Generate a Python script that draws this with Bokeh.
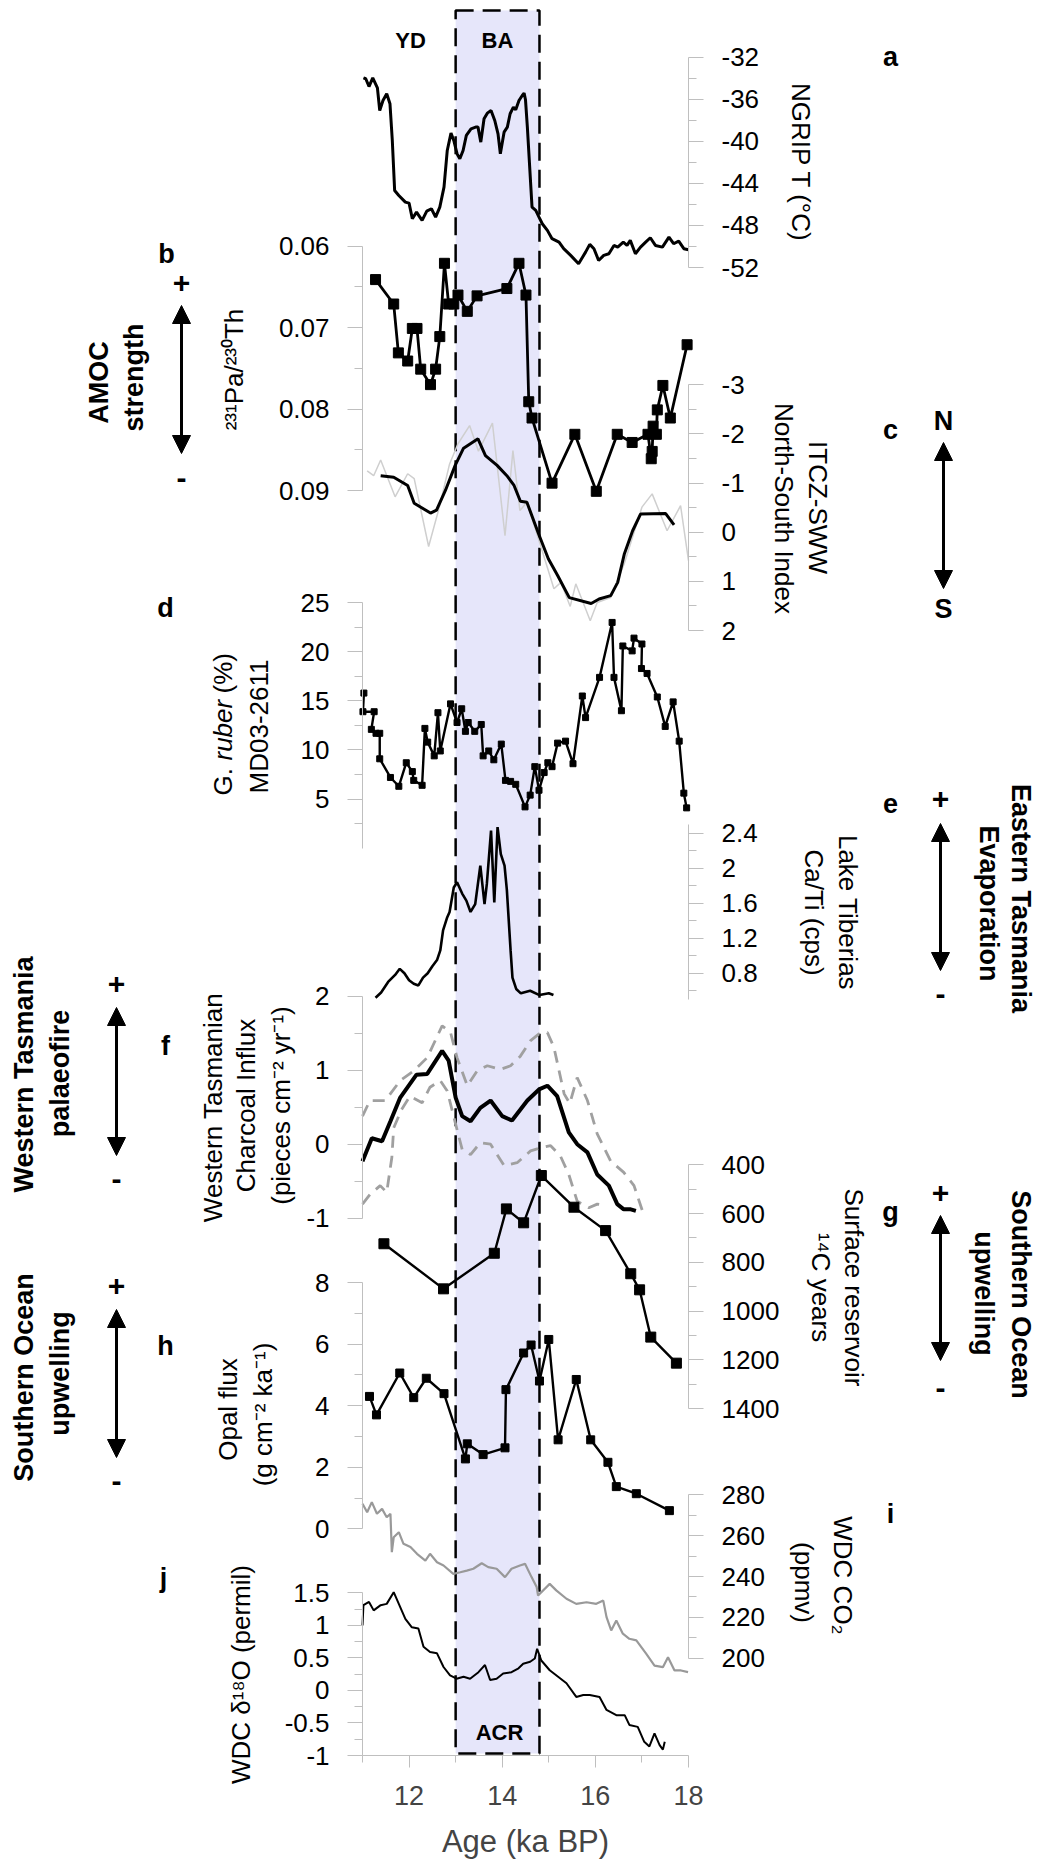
import math
from bokeh.plotting import figure
from bokeh.models import (Range1d, LinearAxis, FixedTicker, Label, Arrow, NormalHead,
                          CustomJSTickFormatter)
from bokeh.embed import file_html
from bokeh.resources import INLINE

# ------------------------------------------------------------------ data
band = [13.0, 14.8]          # BA / ACR interval (ka BP)
x_major = [12, 14, 16, 18]
x_minor = [11, 13, 15, 17]

# a  NGRIP temperature (degC)
ngrip_age = [11.02, 11.07, 11.14, 11.22, 11.32, 11.37, 11.44, 11.52, 11.59, 11.64, 11.69, 11.78, 11.92, 12.0,
             12.07, 12.16, 12.28, 12.38, 12.48, 12.57, 12.66, 12.75, 12.82, 12.9, 12.96, 13.03, 13.09, 13.16,
             13.23, 13.33, 13.43, 13.48, 13.54, 13.61, 13.68, 13.76, 13.84, 13.91, 13.96, 14.04, 14.11, 14.17,
             14.24, 14.29, 14.36, 14.43, 14.47, 14.5, 14.54, 14.59, 14.64, 14.72, 14.79, 14.86, 14.97, 15.07,
             15.22, 15.32, 15.47, 15.64, 15.79, 15.88, 15.97, 16.07, 16.18, 16.29, 16.4, 16.48, 16.6, 16.68,
             16.75, 16.86, 16.97, 17.08, 17.18, 17.29, 17.44, 17.58, 17.68, 17.79, 17.9, 18.0]
ngrip_t = [-33.96, -34.05, -34.79, -33.96, -34.91, -37.07, -36.12, -35.48, -36.43, -39.92, -44.67, -45.15, -45.78,
           -45.88, -47.36, -46.73, -47.52, -46.64, -46.41, -47.21, -46.26, -44.36, -40.87, -39.22, -39.92, -41.18,
           -41.66, -40.87, -39.44, -38.81, -38.65, -38.65, -40.08, -37.86, -37.32, -37.07, -38.02, -39.29, -41.18,
           -39.13, -38.65, -37.38, -36.75, -37.0, -36.12, -35.64, -35.42, -36.05, -38.65, -42.46, -46.26, -46.57,
           -47.21, -47.84, -48.47, -49.26, -49.59, -50.21, -50.85, -51.64, -50.54, -49.8, -50.21, -51.33, -50.85,
           -50.69, -49.9, -50.06, -49.59, -49.9, -49.42, -50.69, -50.06, -49.59, -49.17, -49.9, -50.06, -49.11,
           -49.74, -49.49, -50.21, -50.31]

# b  231Pa/230Th
pa_age = [11.28, 11.67, 11.77, 11.97, 12.07, 12.17, 12.25, 12.46, 12.57, 12.66, 12.76, 12.85, 12.96, 13.05,
          13.25, 13.46, 14.10, 14.36, 14.51, 14.57, 14.64, 15.07, 15.56, 16.02, 16.47, 16.79, 17.13, 17.20,
          17.22, 17.24, 17.31, 17.33, 17.45, 17.61, 17.97]
pa_th = [0.0641, 0.0671, 0.0731, 0.0741, 0.0701, 0.0701, 0.0751, 0.0770, 0.0751, 0.0711, 0.0621, 0.0671, 0.0671,
         0.0660, 0.0680, 0.0661, 0.0652, 0.0621, 0.0660, 0.0791, 0.0811, 0.0891, 0.0831, 0.0901, 0.0831, 0.0841,
         0.0831, 0.0861, 0.0852, 0.0821, 0.0831, 0.0801, 0.0771, 0.0811, 0.0721]

# c  ITCZ-SWW north-south index (smoothed, raw)
itcz_age = [11.39, 11.67, 11.97, 12.11, 12.46, 12.59, 12.78, 12.99, 13.17, 13.48, 13.64, 13.89, 14.10, 14.25,
            14.39, 14.53, 14.78, 14.99, 15.19, 15.44, 15.91, 16.08, 16.33, 16.48, 16.62, 16.80, 16.97, 17.51, 17.69]
itcz_idx = [-1.15, -1.12, -0.95, -0.59, -0.39, -0.45, -0.85, -1.36, -1.71, -1.90, -1.56, -1.36, -1.15, -0.96,
            -0.63, -0.61, 0.03, 0.54, 0.88, 1.33, 1.45, 1.36, 1.29, 1.02, 0.45, -0.03, -0.37, -0.38, -0.15]
itcz_raw_age = [11.10, 11.24, 11.39, 11.70, 11.97, 12.11, 12.42, 12.65, 12.87, 13.05, 13.30, 13.49, 13.79, 14.06,
                14.23, 14.38, 14.53, 14.80, 15.11, 15.26, 15.46, 15.58, 15.89, 16.04, 16.33, 16.62, 17.00, 17.22,
                17.54, 17.83, 18.00]
itcz_raw_idx = [-1.25, -1.15, -1.47, -0.72, -1.19, -1.09, 0.29, -0.51, -1.39, -1.80, -2.17, -1.65, -2.22, 0.07,
                -1.66, -0.44, -0.61, 0.20, 1.15, 1.02, 1.51, 1.05, 1.80, 1.43, 1.33, 0.64, -0.51, -0.78, -0.03,
                -0.54, 0.58]

# d  G. ruber (%) MD03-2611
ruber_age = [11.03, 11.01, 11.25, 11.19, 11.29, 11.37, 11.37, 11.60, 11.78, 11.94, 12.07, 12.10, 12.28, 12.34,
             12.40, 12.54, 12.62, 12.67, 12.89, 13.03, 13.13, 13.21, 13.27, 13.41, 13.55, 13.59, 13.71, 13.82,
             13.98, 14.07, 14.18, 14.29, 14.49, 14.60, 14.70, 14.79, 14.90, 14.98, 15.07, 15.19, 15.36, 15.52,
             15.72, 15.79, 16.09, 16.36, 16.40, 16.56, 16.59, 16.79, 16.83, 17.00, 16.99, 17.11, 17.33, 17.50,
             17.67, 17.80, 17.90, 17.96]
ruber_pct = [15.8, 13.9, 13.9, 12.1, 11.7, 11.7, 9.1, 7.2, 6.3, 8.7, 7.8, 6.9, 6.4, 12.2, 10.8, 9.4, 13.8, 9.9,
             14.7, 12.8, 14.2, 11.9, 12.8, 11.9, 12.6, 9.4, 9.9, 9.0, 10.6, 6.9, 6.8, 6.5, 4.2, 5.4, 8.3, 5.9, 7.7,
             8.7, 8.3, 10.7, 10.9, 8.6, 15.5, 13.3, 17.4, 23.0, 17.4, 14.0, 20.6, 20.1, 21.4, 20.8, 18.3, 17.8,
             15.4, 12.4, 14.9, 10.9, 5.6, 4.1]

# e  Lake Tiberias Ca/Ti (cps)
tib_age = [11.28, 11.40, 11.55, 11.70, 11.80, 11.90, 12.00, 12.10, 12.20, 12.30, 12.40, 12.50, 12.60, 12.67,
           12.73, 12.82, 12.87, 12.96, 13.03, 13.14, 13.23, 13.32, 13.42, 13.53, 13.62, 13.67, 13.76, 13.83,
           13.90, 13.97, 14.05, 14.10, 14.18, 14.22, 14.30, 14.40, 14.60, 14.80, 15.00, 15.10]
tib_cati = [0.52, 0.58, 0.70, 0.78, 0.85, 0.80, 0.72, 0.68, 0.66, 0.75, 0.80, 0.88, 0.95, 1.06, 1.29, 1.44, 1.50,
            1.78, 1.84, 1.71, 1.63, 1.50, 1.59, 2.03, 1.59, 1.82, 2.43, 1.61, 2.47, 2.16, 2.03, 1.75, 1.06, 0.75,
            0.62, 0.57, 0.60, 0.55, 0.57, 0.55]

# f  Western Tasmanian charcoal influx (mean, upper, lower)
char_age = [11.0, 11.2, 11.42, 11.6, 11.81, 12.16, 12.39, 12.71, 12.85, 13.0, 13.14, 13.32, 13.53, 13.75, 14.0,
            14.21, 14.54, 14.79, 14.97, 15.18, 15.43, 15.61, 15.83, 16.04, 16.29, 16.47, 16.61, 16.76, 16.87]
char_mean = [-0.23, 0.08, 0.04, 0.31, 0.63, 0.94, 0.95, 1.26, 1.13, 0.63, 0.38, 0.31, 0.49, 0.59, 0.38, 0.32,
             0.59, 0.74, 0.79, 0.65, 0.16, 0.0, -0.11, -0.41, -0.56, -0.81, -0.88, -0.88, -0.90]
char_hi_age = [11.0, 11.16, 11.49, 11.81, 12.1, 12.39, 12.71, 12.89, 13.03, 13.25, 13.46, 13.68, 13.96, 14.18,
               14.39, 14.61, 14.79, 14.97, 15.11, 15.33, 15.45, 15.61, 15.83, 16.04, 16.33, 16.61, 16.83, 17.01]
char_hi = [0.38, 0.59, 0.59, 0.86, 0.99, 1.17, 1.60, 1.51, 1.17, 0.79, 0.99, 1.06, 1.01, 1.06, 1.19, 1.40, 1.49,
           1.51, 1.31, 0.68, 0.55, 0.90, 0.59, 0.14, -0.23, -0.38, -0.56, -0.90]
char_lo_age = [11.0, 11.16, 11.38, 11.52, 11.63, 11.67, 11.84, 12.02, 12.28, 12.45, 12.67, 12.82, 13.0, 13.14,
               13.32, 13.53, 13.75, 14.04, 14.32, 14.61, 14.82, 15.04, 15.25, 15.43, 15.61, 15.86, 16.04, 16.22]
char_lo = [-0.81, -0.68, -0.56, -0.65, -0.18, 0.22, 0.47, 0.65, 0.56, 0.77, 0.86, 0.72, 0.27, -0.07, -0.14, 0.02,
           0.0, -0.29, -0.25, -0.09, -0.05, -0.02, -0.16, -0.41, -0.77, -0.86, -0.81, -0.83]

# g  Surface reservoir age (14C years)
res_age = [11.46, 12.74, 13.83, 14.09, 14.46, 14.84, 15.54, 16.22, 16.76, 16.95, 17.19, 17.74]
res_yr = [724, 909, 763, 581, 638, 444, 574, 670, 847, 913, 1107, 1214]

# h  Opal flux (g cm-2 ka-1)
opal_age = [11.15, 11.30, 11.80, 12.10, 12.37, 12.75, 13.21, 13.25, 13.59, 14.06, 14.08, 14.46, 14.62, 14.80,
            15.00, 15.20, 15.59, 15.90, 16.27, 16.45, 16.88, 17.59]
opal_flux = [4.30, 3.70, 5.06, 4.26, 4.89, 4.39, 2.27, 2.76, 2.41, 2.63, 4.52, 5.71, 5.97, 4.80, 6.15, 2.89, 4.85,
             2.89, 2.16, 1.37, 1.14, 0.59]

# i  WDC CO2 (ppmv)
co2_age = [11.0, 11.1, 11.2, 11.31, 11.42, 11.52, 11.6, 11.63, 11.67, 11.78, 11.88, 12.03, 12.17, 12.35, 12.45,
           12.6, 12.74, 12.95, 13.1, 13.24, 13.38, 13.56, 13.7, 13.88, 14.06, 14.2, 14.38, 14.49, 14.63, 14.74,
           14.77, 15.02, 15.16, 15.38, 15.59, 15.81, 16.02, 16.17, 16.24, 16.34, 16.45, 16.59, 16.73, 16.88,
           17.09, 17.27, 17.45, 17.56, 17.7, 17.84, 17.99]
co2_ppmv = [275.6, 271.5, 276.4, 270.7, 273.1, 269.0, 270.7, 251.9, 259.2, 261.7, 256.0, 254.4, 251.1, 247.8,
            251.1, 247.0, 245.4, 241.3, 242.1, 242.9, 243.8, 246.5, 244.6, 243.8, 239.7, 243.8, 245.4, 246.2,
            239.7, 234.8, 230.7, 236.4, 233.2, 229.1, 226.6, 227.4, 226.6, 228.2, 220.1, 213.6, 218.5, 212.0,
            209.5, 208.7, 202.2, 196.4, 195.6, 200.5, 194.0, 194.0, 193.2]

# j  WDC d18O (permil)
d18o_age = [11.0, 11.02, 11.14, 11.24, 11.39, 11.52, 11.67, 11.81, 11.92, 12.06, 12.2, 12.31, 12.45, 12.6, 12.74,
            12.88, 13.02, 13.17, 13.31, 13.49, 13.63, 13.74, 13.88, 14.02, 14.2, 14.35, 14.45, 14.6, 14.7, 14.75,
            14.84, 15.02, 15.2, 15.38, 15.59, 15.74, 15.88, 16.09, 16.24, 16.45, 16.63, 16.73, 16.91, 17.05,
            17.16, 17.27, 17.38, 17.45, 17.49]
d18o = [1.0, 1.31, 1.36, 1.23, 1.31, 1.33, 1.51, 1.28, 1.10, 0.97, 0.95, 0.67, 0.59, 0.57, 0.36, 0.23, 0.18, 0.21,
        0.18, 0.28, 0.39, 0.16, 0.18, 0.26, 0.28, 0.34, 0.41, 0.44, 0.49, 0.64, 0.46, 0.31, 0.21, 0.11, -0.10,
        -0.07, -0.07, -0.10, -0.30, -0.38, -0.38, -0.53, -0.56, -0.79, -0.86, -0.66, -0.84, -0.91, -0.79]

# axis ticks per panel
ticks_a = [-52, -48, -44, -40, -36, -32];  minor_a = [-50, -46, -42, -38, -34]
ticks_b = [0.06, 0.07, 0.08, 0.09];        minor_b = [0.065, 0.075, 0.085]
ticks_c = [-3, -2, -1, 0, 1, 2];           minor_c = [-2.5, -1.5, -0.5, 0.5, 1.5]
ticks_d = [5, 10, 15, 20, 25];             minor_d = [2.5, 7.5, 12.5, 17.5, 22.5]
ticks_e = [0.8, 1.2, 1.6, 2.0, 2.4];       minor_e = [0.6, 1.0, 1.4, 1.8, 2.2]
ticks_f = [-1, 0, 1, 2];                   minor_f = [-0.5, 0.5, 1.5]
ticks_g = [400, 600, 800, 1000, 1200, 1400]; minor_g = [500, 700, 900, 1100, 1300]
ticks_h = [0, 2, 4, 6, 8];                 minor_h = [1, 3, 5, 7]
ticks_i = [200, 220, 240, 260, 280];       minor_i = [210, 230, 250, 270]
ticks_j = [-1, -0.5, 0, 0.5, 1, 1.5];      minor_j = [-0.75, -0.25, 0.25, 0.75, 1.25]

# ------------------------------------------------------------------ layout
W, H = 1038, 1872
FL, FR, FT, FB = 362, 688, 10, 1755      # plot box (ages 11..18) in page pixels
PXK = (FR - FL) / 7.0                    # pixels per ka
GRAY = "#bfbfbf"
FONT = "Liberation Sans"
FS = "26px"

# the frame covers the whole canvas; the age scale is placed so that 11..18 spans FL..FR
p = figure(width=W, height=H, output_backend="svg", toolbar_location=None,
           x_range=Range1d(11 + (0 - FL) / PXK, 11 + (W - FL) / PXK),
           y_range=Range1d(H, 0), y_axis_location=None, min_border=0)
p.extra_x_ranges = {"px": Range1d(0, W)}
p.outline_line_color = None
p.grid.grid_line_color = None
p.background_fill_color = "white"
p.border_fill_color = "white"

fmt = CustomJSTickFormatter(code="return (Math.round(tick*1000)/1000).toString();")

# panel placement: value v0 at page y p0, value v1 at page y p1
panels = {
    "a": ("right", -32, 56.7, -52, 267.0, ticks_a, minor_a),
    "b": ("left", 0.06, 245.7, 0.09, 490.0, ticks_b, minor_b),
    "c": ("right", -3, 384.3, 2, 630.0, ticks_c, minor_c),
    "d": ("left", 25, 602.3, 0, 847.6, ticks_d, minor_d),
    "e": ("right", 2.4, 832.7, 0.8, 972.7, ticks_e, minor_e),
    "f": ("left", 2, 995.7, -1, 1217.7, ticks_f, minor_f),
    "g": ("right", 400, 1164.3, 1400, 1408.0, ticks_g, minor_g),
    "h": ("left", 8, 1282.0, 0, 1528.3, ticks_h, minor_h),
    "i": ("right", 280, 1494.3, 200, 1657.7, ticks_i, minor_i),
    "j": ("left", 1.5, 1592.3, -1, 1755.0, ticks_j, minor_j),
}
bounds = {"a": (-52, -32), "b": (0.06, 0.09), "c": (-3, 2), "d": (0, 25), "e": (0.5, 2.5),
          "f": (-1, 2), "g": (400, 1400), "h": (0, 8), "i": (200, 280), "j": (-1, 1.5)}

for name, (side, v0, p0, v1, p1, maj, mnr) in panels.items():
    k = (v1 - v0) / (p1 - p0)
    p.extra_y_ranges[name] = Range1d(start=v0 + (H - p0) * k, end=v0 + (0 - p0) * k)
    ax = LinearAxis(y_range_name=name, fixed_location=11 if side == "left" else 18,
                    bounds=bounds[name], ticker=FixedTicker(ticks=maj, minor_ticks=mnr), formatter=fmt,
                    axis_line_color=GRAY, major_tick_line_color=GRAY, minor_tick_line_color=GRAY,
                    major_tick_out=15, major_tick_in=0, minor_tick_out=8, minor_tick_in=0,
                    major_label_text_font=FONT, major_label_text_font_size=FS,
                    major_label_text_color="black", major_label_standoff=18)
    p.add_layout(ax, side)

xa = p.xaxis[0]
xa.fixed_location = FB
xa.bounds = (11, 18)
xa.ticker = FixedTicker(ticks=x_major, minor_ticks=x_minor)
xa.axis_line_color = GRAY
xa.major_tick_line_color = GRAY
xa.minor_tick_line_color = GRAY
xa.major_tick_out = 12
xa.major_tick_in = 0
xa.minor_tick_out = 7
xa.minor_tick_in = 0
xa.major_label_text_font = FONT
xa.major_label_text_font_size = "27px"
xa.major_label_standoff = 18
xa.axis_label = "Age (ka BP)"
xa.axis_label_text_font = FONT
xa.axis_label_text_font_size = "31px"
xa.axis_label_text_font_style = "normal"
xa.axis_label_standoff = 16

# ------------------------------------------------------------------ band
p.quad(left=[band[0]], right=[band[1]], top=[FT], bottom=[FB - 2], fill_color="#e6e6fa",
       line_color="black", line_dash="18 9", line_width=2.5)

# ------------------------------------------------------------------ series
p.line(ngrip_age, ngrip_t, y_range_name="a", line_color="black", line_width=3)

p.line(pa_age, pa_th, y_range_name="b", line_color="black", line_width=2.8)
p.scatter(pa_age, pa_th, y_range_name="b", marker="square", size=10, color="black")

p.line(itcz_raw_age, itcz_raw_idx, y_range_name="c", line_color="#cfcfcf", line_width=1.5)
p.line(itcz_age, itcz_idx, y_range_name="c", line_color="black", line_width=3)

p.line(ruber_age, ruber_pct, y_range_name="d", line_color="black", line_width=2.4)
p.scatter(ruber_age, ruber_pct, y_range_name="d", marker="square", size=6, color="black")

p.line(tib_age, tib_cati, y_range_name="e", line_color="black", line_width=2.6)

p.line(char_hi_age, char_hi, y_range_name="f", line_color="#a0a0a0", line_width=2.8, line_dash="12 8")
p.line(char_lo_age, char_lo, y_range_name="f", line_color="#a0a0a0", line_width=2.8, line_dash="12 8")
p.line(char_age, char_mean, y_range_name="f", line_color="black", line_width=4)

p.line(res_age, res_yr, y_range_name="g", line_color="black", line_width=2.4)
p.scatter(res_age, res_yr, y_range_name="g", marker="square", size=10, color="black")

p.line(opal_age, opal_flux, y_range_name="h", line_color="black", line_width=2.4)
p.scatter(opal_age, opal_flux, y_range_name="h", marker="square", size=8, color="black")

p.line(co2_age, co2_ppmv, y_range_name="i", line_color="#999999", line_width=2.2)
p.line(d18o_age, d18o, y_range_name="j", line_color="black", line_width=2)

# ------------------------------------------------------------------ text
UP, DOWN = math.pi / 2, -math.pi / 2


def txt(x, y, s, size=FS, style="normal", angle=0.0, align="center", baseline="middle"):
    p.add_layout(Label(x=x, y=y, x_range_name="px", text=s, angle=angle, text_font=FONT,
                       text_font_size=size, text_font_style=style, text_align=align,
                       text_baseline=baseline, text_color="black"))


def arrow(x, y0, y1):
    p.add_layout(Arrow(x_start=x, y_start=y0, x_end=x, y_end=y1, x_range_name="px",
                       line_width=3, line_color="black",
                       start=NormalHead(size=18, fill_color="black", line_color="black", line_width=1),
                       end=NormalHead(size=18, fill_color="black", line_color="black", line_width=1)))


# top labels
txt(410, 40, "YD", size="22px", style="bold")
txt(497, 40, "BA", size="22px", style="bold")
txt(499, 1732, "ACR", size="22px", style="bold")

# right side
txt(890, 56, "a", size="27px", style="bold")
txt(800, 162, "NGRIP T (°C)", angle=DOWN)

txt(890, 429, "c", size="27px", style="bold")
txt(817, 507, "ITCZ-SWW", angle=DOWN)
txt(783, 508, "North-South Index", angle=DOWN)
txt(943, 420, "N", size="27px", style="bold")
arrow(943, 442, 588)
txt(943, 608, "S", size="27px", style="bold")

txt(890, 803, "e", size="27px", style="bold")
txt(940, 798, "+", size="30px", style="bold")
arrow(940, 823, 970)
txt(940, 993, "-", size="30px", style="bold")
txt(1020, 898, "Eastern Tasmania", size="27px", style="bold", angle=DOWN)
txt(988, 903, "Evaporation", size="27px", style="bold", angle=DOWN)
txt(847, 912, "Lake Tiberias", angle=DOWN)
txt(813, 912, "Ca/Ti (cps)", angle=DOWN)

txt(890, 1211, "g", size="27px", style="bold")
txt(940, 1192, "+", size="30px", style="bold")
arrow(940, 1215, 1360)
txt(940, 1387, "-", size="30px", style="bold")
txt(1020, 1294, "Southern Ocean", size="27px", style="bold", angle=DOWN)
txt(983, 1293, "upwelling", size="27px", style="bold", angle=DOWN)
txt(853, 1287, "Surface reservoir", angle=DOWN)
txt(820, 1287, "\u00b9\u2074C years", angle=DOWN)

txt(890, 1513, "i", size="27px", style="bold")
txt(842, 1575, "WDC CO\u2082", angle=DOWN)
txt(803, 1582, "(ppmv)", angle=DOWN)

# left side
txt(166, 253, "b", size="27px", style="bold")
txt(181, 282, "+", size="30px", style="bold")
arrow(181, 305, 453)
txt(181, 477, "-", size="30px", style="bold")
txt(98, 382, "AMOC", size="27px", style="bold", angle=UP)
txt(133, 377, "strength", size="27px", style="bold", angle=UP)
txt(233, 369, "\u00b2\u00b3\u00b9Pa/\u00b2\u00b3\u2070Th", angle=UP)

txt(165, 607, "d", size="27px", style="bold")
txt(222, 795, "G.", angle=UP, align="left")
txt(222, 760, "ruber", style="italic", angle=UP, align="left")
txt(222, 693, "(%)", angle=UP, align="left")
txt(258, 726, "MD03-2611", angle=UP)

txt(23, 1074, "Western Tasmania", size="27px", style="bold", angle=UP)
txt(59, 1073, "palaeofire", size="27px", style="bold", angle=UP)
txt(116, 983, "+", size="30px", style="bold")
arrow(116, 1007, 1155)
txt(116, 1178, "-", size="30px", style="bold")
txt(165, 1045, "f", size="27px", style="bold")
txt(212, 1107, "Western Tasmanian", angle=UP)
txt(245, 1105, "Charcoal Influx", angle=UP)
txt(280, 1105, "(pieces cm\u207b\u00b2 yr\u207b\u00b9)", angle=UP)

txt(23, 1377, "Southern Ocean", size="27px", style="bold", angle=UP)
txt(59, 1373, "upwelling", size="27px", style="bold", angle=UP)
txt(116, 1285, "+", size="30px", style="bold")
arrow(116, 1309, 1457)
txt(116, 1480, "-", size="30px", style="bold")
txt(165, 1345, "h", size="27px", style="bold")
txt(227, 1409, "Opal flux", angle=UP)
txt(262, 1414, "(g cm\u207b\u00b2 ka\u207b\u00b9)", angle=UP)

txt(163, 1577, "j", size="27px", style="bold")
txt(240, 1674, "WDC \u03b4\u00b9\u2078O (permil)", angle=UP)

open("out.html", "w").write(file_html(p, INLINE))
